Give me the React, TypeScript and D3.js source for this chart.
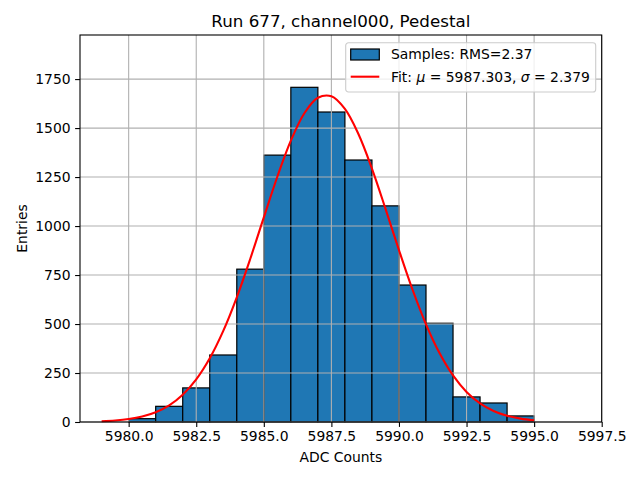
import * as d3 from "d3";
import { useEffect, useRef } from "react";

// histogram bins (left edges, width 1) and counts
const binStarts = [5980, 5981, 5982, 5983, 5984, 5985, 5986, 5987, 5988, 5989, 5990, 5991, 5992, 5993, 5994];
const binCounts = [17, 80, 174, 342, 780, 1362, 1708, 1582, 1337, 1103, 699, 504, 128, 97, 31];

// fitted gaussian, sampled
const fitX = [
  5979, 5979.5, 5980, 5980.5, 5981, 5981.5, 5982, 5982.5, 5983, 5983.5, 5984, 5984.5,
  5985, 5985.5, 5986, 5986.5, 5987, 5987.5, 5988, 5988.5, 5989, 5989.5, 5990, 5990.5,
  5991, 5991.5, 5992, 5992.5, 5993, 5993.5, 5994, 5994.5, 5995,
];
const fitY = [
  3.8, 7.7, 15.0, 28.0, 49.9, 85.2, 139.1, 217.4, 325, 464.9, 636.2, 833.2,
  1044, 1251.7, 1435.7, 1575.6, 1654.5, 1662.3, 1597.9, 1469.7, 1293.4, 1089, 877.2, 676.2,
  498.6, 351.8, 237.5, 153.4, 94.9, 56.1, 31.7, 17.2, 8.9,
];

const xTicks = [5980, 5982.5, 5985, 5987.5, 5990, 5992.5, 5995, 5997.5];
const yTicks = [0, 250, 500, 750, 1000, 1250, 1500, 1750];

const chartTitle = "Run 677, channel000, Pedestal";
const xLabel = "ADC Counts";
const yLabel = "Entries";
const samplesLabel = "Samples: RMS=2.37";

const width = 640;
const height = 480;
const font = "'DejaVu Sans', sans-serif";

export default function App() {
  const svgRef = useRef<SVGSVGElement>(null);

  useEffect(() => {
    if (!svgRef.current) return;
    const svg = d3.select(svgRef.current);
    svg.selectAll("*").remove();

    const margin = { top: 35, right: 38.3, bottom: 58, left: 80 };
    const innerWidth = width - margin.left - margin.right;
    const innerHeight = height - margin.top - margin.bottom;

    svg.append("rect").attr("width", width).attr("height", height).attr("fill", "white");

    const g = svg
      .append("g")
      .attr("transform", `translate(${margin.left},${margin.top})`);

    const xScale = d3.scaleLinear().domain([5978.2, 5997.5]).range([0, innerWidth]);
    const yScale = d3.scaleLinear().domain([0, 1975]).range([innerHeight, 0]);

    // bars
    g.selectAll(".bar")
      .data(binStarts)
      .enter()
      .append("rect")
      .attr("class", "bar")
      .attr("x", (d) => xScale(d))
      .attr("width", (d) => xScale(d + 1) - xScale(d))
      .attr("y", (_, i) => yScale(binCounts[i]))
      .attr("height", (_, i) => yScale(0) - yScale(binCounts[i]))
      .style("fill", "#1f77b4")
      .style("stroke", "black")
      .style("stroke-width", 1.2);

    // grid (drawn over bars, under line)
    const grid = g.append("g").attr("class", "grid");
    xTicks.forEach((t) => {
      grid
        .append("line")
        .attr("x1", xScale(t))
        .attr("x2", xScale(t))
        .attr("y1", 0)
        .attr("y2", innerHeight)
        .style("stroke", "#b0b0b0")
        .style("stroke-width", 1.1);
    });
    yTicks.forEach((t) => {
      grid
        .append("line")
        .attr("x1", 0)
        .attr("x2", innerWidth)
        .attr("y1", yScale(t))
        .attr("y2", yScale(t))
        .style("stroke", "#b0b0b0")
        .style("stroke-width", 1.1);
    });

    // fit curve
    const fitLine = d3
      .line<number>()
      .x((d) => xScale(d))
      .y((_, i) => yScale(fitY[i]))
      .curve(d3.curveCatmullRom.alpha(0.5));

    g.append("path")
      .datum(fitX)
      .attr("d", fitLine)
      .style("fill", "none")
      .style("stroke", "red")
      .style("stroke-width", 2.1);

    // axes
    const xAxis = d3
      .axisBottom(xScale)
      .tickValues(xTicks)
      .tickFormat((d) => (d as number).toFixed(1))
      .tickSize(4.9)
      .tickPadding(4.5)
      .tickSizeOuter(0);
    const yAxis = d3
      .axisLeft(yScale)
      .tickValues(yTicks)
      .tickFormat((d) => `${d}`)
      .tickSize(4.9)
      .tickPadding(4.5)
      .tickSizeOuter(0);

    const xg = g.append("g").attr("transform", `translate(0,${innerHeight})`).call(xAxis);
    const yg = g.append("g").call(yAxis);
    [xg, yg].forEach((ax) => {
      ax.select(".domain").remove();
      ax.selectAll(".tick line").style("stroke", "black").style("stroke-width", 1.1);
      ax.selectAll("text")
        .style("font-family", font)
        .style("font-size", "13.9px")
        .style("fill", "black");
    });

    // spines
    g.append("rect")
      .attr("width", innerWidth)
      .attr("height", innerHeight)
      .style("fill", "none")
      .style("stroke", "black")
      .style("stroke-width", 1.1);

    // title
    svg
      .append("text")
      .attr("x", margin.left + innerWidth / 2)
      .attr("y", 27)
      .attr("text-anchor", "middle")
      .style("font-family", font)
      .style("font-size", "16.7px")
      .text(chartTitle);

    svg
      .append("text")
      .attr("x", margin.left + innerWidth / 2)
      .attr("y", 462)
      .attr("text-anchor", "middle")
      .style("font-family", font)
      .style("font-size", "13.9px")
      .text(xLabel);

    svg
      .append("text")
      .attr("transform", "rotate(-90)")
      .attr("x", -(margin.top + innerHeight / 2))
      .attr("y", 27)
      .attr("text-anchor", "middle")
      .style("font-family", font)
      .style("font-size", "13.9px")
      .text(yLabel);

    // legend
    const legend = svg.append("g").attr("transform", "translate(345.7,42.7)");
    legend
      .append("rect")
      .attr("width", 250)
      .attr("height", 49.3)
      .attr("rx", 2.8)
      .style("fill", "white")
      .style("fill-opacity", 0.8)
      .style("stroke", "#cccccc")
      .style("stroke-width", 1.1);

    legend
      .append("rect")
      .attr("x", 5)
      .attr("y", 6.3)
      .attr("width", 28.6)
      .attr("height", 11)
      .style("fill", "#1f77b4")
      .style("stroke", "black")
      .style("stroke-width", 1.2);
    legend
      .append("text")
      .attr("x", 45.3)
      .attr("y", 16.5)
      .style("font-family", font)
      .style("font-size", "13.9px")
      .text(samplesLabel);

    legend
      .append("line")
      .attr("x1", 5)
      .attr("x2", 33.6)
      .attr("y1", 34)
      .attr("y2", 34)
      .style("stroke", "red")
      .style("stroke-width", 2.1);
    const fitText = legend
      .append("text")
      .attr("x", 45.3)
      .attr("y", 39)
      .style("font-family", font)
      .style("font-size", "13.9px");
    fitText.append("tspan").text("Fit: ");
    fitText.append("tspan").style("font-style", "italic").text("μ");
    fitText.append("tspan").text(" = 5987.303, ");
    fitText.append("tspan").style("font-style", "italic").text("σ");
    fitText.append("tspan").text(" = 2.379");
  }, []);

  return (
    <svg
      ref={svgRef}
      width={width}
      height={height}
      style={{ position: "absolute", left: 0, top: 0 }}
    />
  );
}
